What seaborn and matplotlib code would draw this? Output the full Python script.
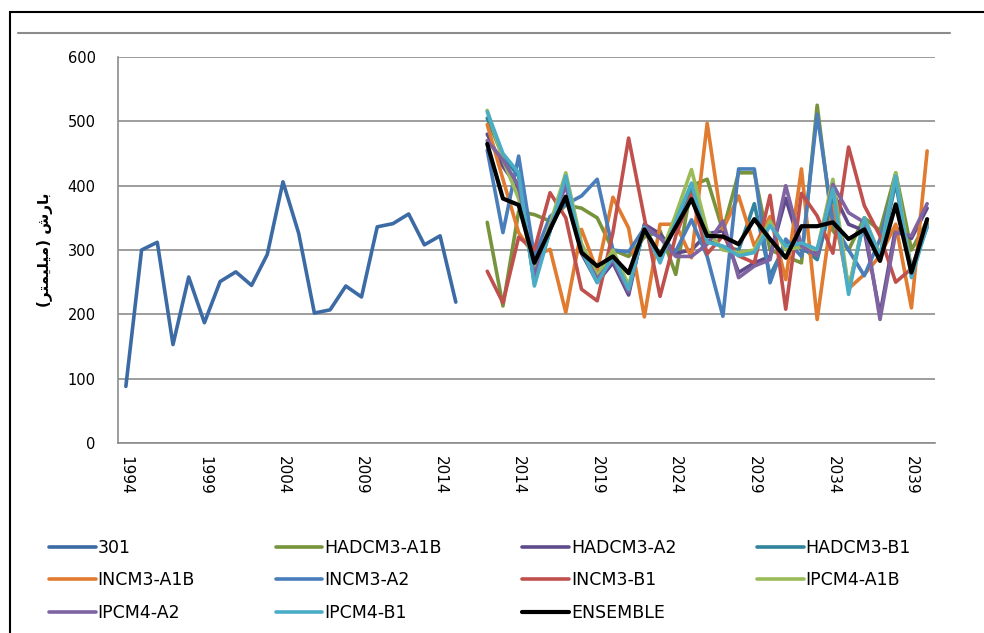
# Related Third-party Imports
import matplotlib.pyplot as plt
import matplotlib.lines  as mlines
import matplotlib.patches as mpatches
import numpy             as np
import pandas            as pd
import seaborn           as sns

# Category axis: observed years, one empty slot, then projection years
hist_years = [str(y) for y in range(1994, 2016)]
proj_years = [str(y) for y in range(2012, 2041)]
categories = hist_years + [''] + proj_years

# Observed rainfall (mm), station 301
obs_301 = [88, 300, 312, 153, 258, 187, 251, 266, 245, 293, 406, 326,
           202, 207, 244, 227, 336, 341, 356, 308, 322, 219]

# Projections 2012-2040 (mm)
hadcm3_a1b = [343, 213, 360, 355, 345, 370, 365, 350, 300, 290, 320, 330, 262, 400, 410,
              330, 420, 420, 300, 290, 280, 525, 330, 300, 350, 330, 420, 300, 345]
hadcm3_a2  = [480, 430, 395, 255, 330, 405, 295, 250, 280, 230, 340, 325, 295, 300, 325,
              330, 265, 280, 290, 380, 300, 295, 390, 340, 330, 200, 335, 318, 365]
hadcm3_b1  = [505, 445, 415, 248, 332, 410, 298, 252, 288, 236, 338, 285, 340, 400, 315,
              305, 300, 372, 260, 310, 305, 285, 380, 240, 345, 290, 405, 262, 340]
incm3_a1b  = [495, 410, 327, 291, 301, 203, 332, 267, 382, 334, 196, 340, 340, 288, 497,
              332, 384, 306, 352, 254, 426, 192, 369, 240, 262, 291, 340, 210, 454]
incm3_a2   = [455, 327, 446, 290, 352, 371, 384, 410, 300, 297, 334, 319, 298, 347, 290,
              197, 426, 426, 249, 317, 290, 511, 343, 300, 260, 317, 412, 270, 335]
incm3_b1   = [267, 218, 320, 300, 389, 350, 239, 221, 327, 474, 350, 228, 322, 386, 294,
              322, 291, 280, 385, 208, 388, 353, 295, 460, 369, 322, 250, 271, 340]
ipcm4_a1b  = [517, 440, 380, 265, 340, 420, 310, 260, 300, 245, 335, 290, 355, 425, 330,
              300, 296, 300, 345, 300, 305, 300, 410, 240, 350, 292, 420, 265, 345]
ipcm4_a2   = [470, 440, 400, 260, 335, 400, 300, 255, 285, 235, 337, 319, 290, 290, 309,
              345, 257, 275, 285, 400, 306, 291, 402, 358, 343, 192, 327, 322, 372]
ipcm4_b1   = [515, 450, 420, 244, 330, 415, 300, 249, 290, 239, 335, 280, 345, 404, 312,
              306, 291, 296, 338, 306, 311, 301, 395, 231, 350, 290, 415, 257, 338]
ensemble   = [465, 380, 370, 280, 332, 383, 296, 275, 290, 264, 332, 292, 336, 379, 322,
              321, 309, 348, 317, 288, 337, 337, 343, 317, 332, 283, 371, 265, 348]

series_names = ['301', 'HADCM3-A1B', 'HADCM3-A2', 'HADCM3-B1', 'INCM3-A1B', 'INCM3-A2',
                'INCM3-B1', 'IPCM4-A1B', 'IPCM4-A2', 'IPCM4-B1', 'ENSEMBLE']
series_values = [obs_301, hadcm3_a1b, hadcm3_a2, hadcm3_b1, incm3_a1b, incm3_a2,
                 incm3_b1, ipcm4_a1b, ipcm4_a2, ipcm4_b1, ensemble]
colors = ['#3C6AA5', '#77933C', '#5F4B8B', '#31849B', '#E07B30', '#4A7EBB',
          '#C0504D', '#9BBB59', '#8064A2', '#4BACC6', '#000000']

# Build a long table, positions come from the category list
rows = []
for name, values in zip(series_names, series_values):
    start = 0 if name == '301' else len(hist_years) + 1
    for k, v in enumerate(values):
        rows.append({'pos': start + k, 'value': v, 'series': name})
df = pd.DataFrame(rows)

sns.set_style('white')
plt.rcParams['font.family'] = ['DejaVu Sans']
plt.rcParams['text.color'] = 'black'
plt.rcParams['xtick.color'] = 'black'
plt.rcParams['ytick.color'] = 'black'

fig = plt.figure(figsize=(9.84, 6.33), dpi=100)
ax = fig.add_axes([118 / 984, 1 - 443 / 633, (935 - 118) / 984, (443 - 57) / 633])

palette = dict(zip(series_names, colors))
widths = {n: (3.0 if n == 'ENSEMBLE' else 2.6) for n in series_names}
for name in series_names:
    sns.lineplot(data=df[df['series'] == name], x='pos', y='value', color=palette[name],
                 linewidth=widths[name], label=name, ax=ax, sort=False, estimator=None,
                 solid_capstyle='round', solid_joinstyle='round')

ax.set_xlim(-0.5, len(categories) - 0.5)
ax.set_ylim(0, 600)
ax.set_yticks(np.arange(0, 601, 100))
ax.tick_params(axis='y', labelsize=10.5, length=0, pad=16)
tick_pos = list(range(0, len(categories), 5))
ax.set_xticks(tick_pos)
ax.set_xticklabels([categories[i] for i in tick_pos], rotation=-90, fontsize=11)
ax.tick_params(axis='x', length=0, pad=9)
ax.set_xlabel('')
ax.set_ylabel('')
ax.yaxis.grid(True, color='#8C8C8C', linewidth=1.2)
ax.set_axisbelow(True)
for side in ['top', 'right']:
    ax.spines[side].set_visible(False)
for side in ['left', 'bottom']:
    ax.spines[side].set_color('#8C8C8C')
    ax.spines[side].set_linewidth(1.2)

# Y label (Persian, written in visual order with presentation forms)
ylabel = '(\uFEAE\uFE98\uFEE4\uFEF4\uFEE0\uFEF4\uFEE3) \uFEB5\uFEAD\uFE8E\uFE91'
fig.text(45 / 984, 1 - 250 / 633, ylabel, rotation=90, fontsize=11, fontweight='bold',
         ha='center', va='center')

# Legend, filled row by row like the original
handles, labels = ax.get_legend_handles_labels()
ax.get_legend().remove()
order = [0, 4, 8, 1, 5, 9, 2, 6, 10, 3, 7]
fig.legend([handles[i] for i in order], [labels[i] for i in order], ncol=4,
           loc='upper left', bbox_to_anchor=(42 / 984, 1 - 538 / 633, (918 - 42) / 984, 0.01),
           mode='expand', frameon=False, fontsize=12.5, handlelength=2.7,
           handletextpad=0.1, labelspacing=0.85, borderaxespad=0)

# Outer frame and separator line
fig.patches.append(mpatches.Rectangle((10 / 984, -0.2), 1.2, 0.2 + 1 - 12 / 633, fill=False,
                                      edgecolor='black', linewidth=1.5,
                                      transform=fig.transFigure))
fig.lines.append(mlines.Line2D([18 / 984, 950 / 984], [1 - 33 / 633, 1 - 33 / 633],
                               color='#8C8C8C', linewidth=1.5, transform=fig.transFigure))

fig.savefig('out.png', dpi=100)
